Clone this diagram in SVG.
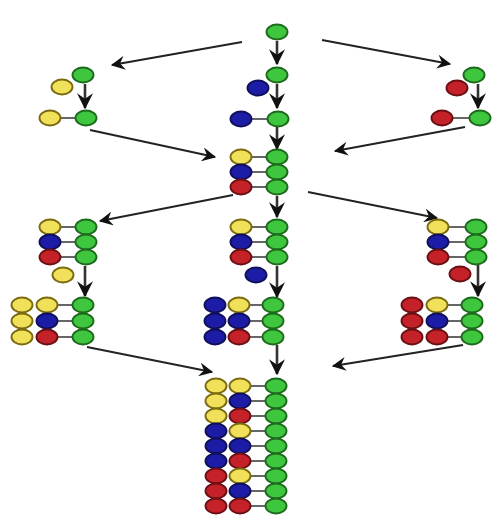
<svg xmlns="http://www.w3.org/2000/svg" width="496" height="517" viewBox="0 0 496 517">
<defs>
<style>
.g{fill:#3fc63f;stroke:#1d6a1d;stroke-width:1.9}
.y{fill:#f0e05a;stroke:#7a6a10;stroke-width:1.9}
.b{fill:#1c1ca6;stroke:#10105a;stroke-width:1.9}
.r{fill:#c42228;stroke:#6a1014;stroke-width:1.9}
.bond{stroke:#333;stroke-width:1.4}
.arr{stroke:#222;stroke-width:2;fill:none;marker-end:url(#ah)}
.varr{stroke:#333;stroke-width:2.6;fill:none;marker-end:url(#vah)}
</style>
<marker id="ah" viewBox="0 0 12 12" refX="11" refY="6" markerWidth="14" markerHeight="14" markerUnits="userSpaceOnUse" orient="auto">
<path d="M0,0 L12,6 L0,12 L4,6 z" fill="#111"/>
</marker>
<marker id="vah" viewBox="0 0 12 12" refX="11" refY="6" markerWidth="16" markerHeight="16" markerUnits="userSpaceOnUse" orient="auto">
<path d="M0,0 L12,6 L0,12 L4,6 z" fill="#111"/>
</marker>
<ellipse id="c" rx="10.5" ry="7.5"/>
</defs>
<rect width="496" height="517" fill="#fff"/>

<g id="connectors">
<line class="varr" x1="277" y1="41" x2="277" y2="64"/>
<line class="varr" x1="277" y1="84" x2="277" y2="108"/>
<line class="varr" x1="277" y1="127" x2="277" y2="149"/>
<line class="arr" x1="242" y1="42" x2="112" y2="65"/>
<line class="arr" x1="322" y1="40" x2="450" y2="64"/>
<line class="varr" x1="85" y1="84" x2="85" y2="108"/>
<line class="varr" x1="478" y1="84" x2="478" y2="108"/>
<line class="arr" x1="90" y1="130" x2="215" y2="157"/>
<line class="arr" x1="465" y1="127" x2="335" y2="151"/>
<line class="arr" x1="233" y1="195" x2="100" y2="221"/>
<line class="arr" x1="308" y1="192" x2="437" y2="218"/>
<line class="varr" x1="277" y1="196" x2="277" y2="217"/>
<line class="varr" x1="85" y1="266" x2="85" y2="296"/>
<line class="varr" x1="277" y1="266" x2="277" y2="297"/>
<line class="varr" x1="478" y1="265" x2="478" y2="296"/>
<line class="arr" x1="87" y1="347" x2="212" y2="372"/>
<line class="arr" x1="463" y1="345" x2="333" y2="366"/>
<line class="varr" x1="277" y1="345" x2="277" y2="374"/>
</g>

<g id="n-start"><use href="#c" class="g" x="277" y="32"/></g>

<g id="n-blue-approach"><use href="#c" class="g" x="277" y="75"/><use href="#c" class="b" x="258" y="88"/></g>
<g id="n-blue-bound"><line class="bond" x1="241" y1="119" x2="278" y2="119"/><use href="#c" class="b" x="241" y="119"/><use href="#c" class="g" x="278" y="119"/></g>

<g id="n-yellow-approach"><use href="#c" class="g" x="83" y="75"/><use href="#c" class="y" x="62" y="87"/></g>
<g id="n-yellow-bound"><line class="bond" x1="50" y1="118" x2="86" y2="118"/><use href="#c" class="y" x="50" y="118"/><use href="#c" class="g" x="86" y="118"/></g>

<g id="n-red-approach"><use href="#c" class="g" x="474" y="75"/><use href="#c" class="r" x="457" y="88"/></g>
<g id="n-red-bound"><line class="bond" x1="442" y1="118" x2="480" y2="118"/><use href="#c" class="r" x="442" y="118"/><use href="#c" class="g" x="480" y="118"/></g>

<g id="n-trio">
<line class="bond" x1="241" y1="157" x2="277" y2="157"/><line class="bond" x1="241" y1="172" x2="277" y2="172"/><line class="bond" x1="241" y1="187" x2="277" y2="187"/>
<use href="#c" class="y" x="241" y="157"/><use href="#c" class="b" x="241" y="172"/><use href="#c" class="r" x="241" y="187"/>
<use href="#c" class="g" x="277" y="157"/><use href="#c" class="g" x="277" y="172"/><use href="#c" class="g" x="277" y="187"/>
</g>

<g id="n-trio-left">
<line class="bond" x1="50" y1="227" x2="86" y2="227"/><line class="bond" x1="50" y1="242" x2="86" y2="242"/><line class="bond" x1="50" y1="257" x2="86" y2="257"/>
<use href="#c" class="y" x="50" y="227"/><use href="#c" class="b" x="50" y="242"/><use href="#c" class="r" x="50" y="257"/>
<use href="#c" class="g" x="86" y="227"/><use href="#c" class="g" x="86" y="242"/><use href="#c" class="g" x="86" y="257"/>
<use href="#c" class="y" x="63" y="275"/>
</g>

<g id="n-trio-center">
<line class="bond" x1="241" y1="227" x2="277" y2="227"/><line class="bond" x1="241" y1="242" x2="277" y2="242"/><line class="bond" x1="241" y1="257" x2="277" y2="257"/>
<use href="#c" class="y" x="241" y="227"/><use href="#c" class="b" x="241" y="242"/><use href="#c" class="r" x="241" y="257"/>
<use href="#c" class="g" x="277" y="227"/><use href="#c" class="g" x="277" y="242"/><use href="#c" class="g" x="277" y="257"/>
<use href="#c" class="b" x="256" y="275"/>
</g>

<g id="n-trio-right">
<line class="bond" x1="438" y1="227" x2="476" y2="227"/><line class="bond" x1="438" y1="242" x2="476" y2="242"/><line class="bond" x1="438" y1="257" x2="476" y2="257"/>
<use href="#c" class="y" x="438" y="227"/><use href="#c" class="b" x="438" y="242"/><use href="#c" class="r" x="438" y="257"/>
<use href="#c" class="g" x="476" y="227"/><use href="#c" class="g" x="476" y="242"/><use href="#c" class="g" x="476" y="257"/>
<use href="#c" class="r" x="460" y="274"/>
</g>

<g id="n-yellow-set">
<line class="bond" x1="47" y1="305" x2="83" y2="305"/><line class="bond" x1="47" y1="321" x2="83" y2="321"/><line class="bond" x1="47" y1="337" x2="83" y2="337"/>
<use href="#c" class="y" x="22" y="305"/><use href="#c" class="y" x="47" y="305"/><use href="#c" class="g" x="83" y="305"/>
<use href="#c" class="y" x="22" y="321"/><use href="#c" class="b" x="47" y="321"/><use href="#c" class="g" x="83" y="321"/>
<use href="#c" class="y" x="22" y="337"/><use href="#c" class="r" x="47" y="337"/><use href="#c" class="g" x="83" y="337"/>
</g>

<g id="n-blue-set">
<line class="bond" x1="239" y1="305" x2="273" y2="305"/><line class="bond" x1="239" y1="321" x2="273" y2="321"/><line class="bond" x1="239" y1="337" x2="273" y2="337"/>
<use href="#c" class="b" x="215" y="305"/><use href="#c" class="y" x="239" y="305"/><use href="#c" class="g" x="273" y="305"/>
<use href="#c" class="b" x="215" y="321"/><use href="#c" class="b" x="239" y="321"/><use href="#c" class="g" x="273" y="321"/>
<use href="#c" class="b" x="215" y="337"/><use href="#c" class="r" x="239" y="337"/><use href="#c" class="g" x="273" y="337"/>
</g>

<g id="n-red-set">
<line class="bond" x1="437" y1="305" x2="472" y2="305"/><line class="bond" x1="437" y1="321" x2="472" y2="321"/><line class="bond" x1="437" y1="337" x2="472" y2="337"/>
<use href="#c" class="r" x="412" y="305"/><use href="#c" class="y" x="437" y="305"/><use href="#c" class="g" x="472" y="305"/>
<use href="#c" class="r" x="412" y="321"/><use href="#c" class="b" x="437" y="321"/><use href="#c" class="g" x="472" y="321"/>
<use href="#c" class="r" x="412" y="337"/><use href="#c" class="r" x="437" y="337"/><use href="#c" class="g" x="472" y="337"/>
</g>

<g id="n-final">
<line class="bond" x1="240" y1="386" x2="276" y2="386"/><line class="bond" x1="240" y1="401" x2="276" y2="401"/><line class="bond" x1="240" y1="416" x2="276" y2="416"/>
<line class="bond" x1="240" y1="431" x2="276" y2="431"/><line class="bond" x1="240" y1="446" x2="276" y2="446"/><line class="bond" x1="240" y1="461" x2="276" y2="461"/>
<line class="bond" x1="240" y1="476" x2="276" y2="476"/><line class="bond" x1="240" y1="491" x2="276" y2="491"/><line class="bond" x1="240" y1="506" x2="276" y2="506"/>
<use href="#c" class="y" x="216" y="386"/><use href="#c" class="y" x="240" y="386"/><use href="#c" class="g" x="276" y="386"/>
<use href="#c" class="y" x="216" y="401"/><use href="#c" class="b" x="240" y="401"/><use href="#c" class="g" x="276" y="401"/>
<use href="#c" class="y" x="216" y="416"/><use href="#c" class="r" x="240" y="416"/><use href="#c" class="g" x="276" y="416"/>
<use href="#c" class="b" x="216" y="431"/><use href="#c" class="y" x="240" y="431"/><use href="#c" class="g" x="276" y="431"/>
<use href="#c" class="b" x="216" y="446"/><use href="#c" class="b" x="240" y="446"/><use href="#c" class="g" x="276" y="446"/>
<use href="#c" class="b" x="216" y="461"/><use href="#c" class="r" x="240" y="461"/><use href="#c" class="g" x="276" y="461"/>
<use href="#c" class="r" x="216" y="476"/><use href="#c" class="y" x="240" y="476"/><use href="#c" class="g" x="276" y="476"/>
<use href="#c" class="r" x="216" y="491"/><use href="#c" class="b" x="240" y="491"/><use href="#c" class="g" x="276" y="491"/>
<use href="#c" class="r" x="216" y="506"/><use href="#c" class="r" x="240" y="506"/><use href="#c" class="g" x="276" y="506"/>
</g>
</svg>
